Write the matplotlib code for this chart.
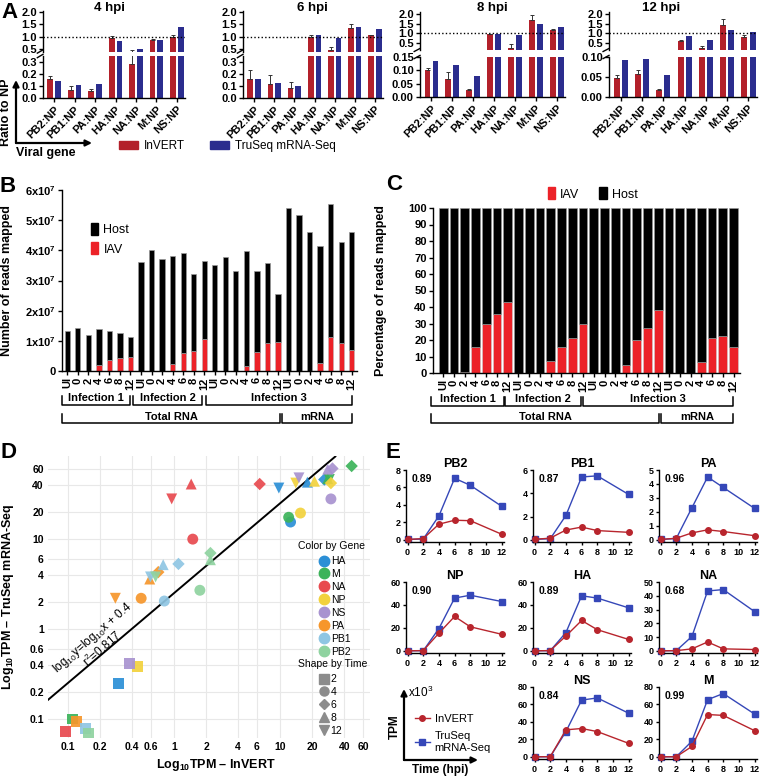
import matplotlib

matplotlib.use("Agg")
import matplotlib.pyplot as plt  # noqa: E402
import numpy as np  # noqa: E402
from matplotlib.lines import Line2D  # noqa: E402
from matplotlib.patches import FancyArrowPatch, Patch  # noqa: E402
from matplotlib.ticker import FormatStrFormatter  # noqa: E402

plt.rcParams["font.family"] = ["Liberation Sans", "DejaVu Sans"]
plt.rcParams["mathtext.fontset"] = "custom"
plt.rcParams["mathtext.rm"] = "Liberation Sans"
plt.rcParams["mathtext.bf"] = "Liberation Sans:bold"
plt.rcParams["mathtext.it"] = "Liberation Sans:italic"
plt.rcParams["axes.linewidth"] = 1.0
plt.rcParams["xtick.major.width"] = 1.0
plt.rcParams["ytick.major.width"] = 1.0

RED = "#b3202a"
NAVY = "#2b2d8e"
IAV_RED = "#ec2228"

# ---------------- A: ratio of each segment to NP
ratio_labels = ["PB2:NP", "PB1:NP", "PA:NP", "HA:NP", "NA:NP", "M:NP", "NS:NP"]
hpi_titles = ["4 hpi", "6 hpi", "8 hpi", "12 hpi"]
inv_4 = [0.16, 0.07, 0.06, 0.95, 0.28, 0.87, 1.00]
inv_4_err = [0.02, 0.03, 0.012, 0.07, 0.19, 0.03, 0.08]
tru_4 = [0.145, 0.11, 0.115, 0.82, 0.52, 0.86, 1.38]
inv_6 = [0.16, 0.12, 0.08, 1.00, 0.47, 1.35, 1.05]
inv_6_err = [0.07, 0.075, 0.05, 0.07, 0.10, 0.15, 0.03]
tru_6 = [0.16, 0.125, 0.10, 1.07, 0.93, 1.38, 1.33]
inv_8 = [0.10, 0.068, 0.025, 0.95, 0.25, 1.70, 1.20]
inv_8_err = [0.008, 0.025, 0.005, 0.04, 0.22, 0.25, 0.05]
tru_8 = [0.135, 0.12, 0.08, 0.98, 0.92, 1.47, 1.33]
inv_12 = [0.048, 0.057, 0.018, 0.58, 0.22, 1.42, 0.82]
inv_12_err = [0.008, 0.01, 0.002, 0.06, 0.15, 0.30, 0.12]
tru_12 = [0.093, 0.095, 0.054, 0.88, 0.65, 1.15, 1.08]

# ---------------- B / C: mapped reads per library
sample_labels = ["UI", "0", "2", "4", "6", "8", "12"] * 4
total_reads_1e7 = [1.33, 1.44, 1.19, 1.38, 1.31, 1.26, 1.13,
                   3.61, 4.01, 3.71, 3.81, 3.91, 3.22, 3.66,
                   3.52, 3.77, 3.33, 3.97, 3.31, 3.57, 2.55,
                   5.39, 5.17, 4.62, 4.14, 5.54, 4.29, 4.62]
iav_reads_1e7 = [0, 0, 0, 0.20, 0.36, 0.43, 0.47,
                 0, 0, 0, 0.24, 0.61, 0.66, 1.06,
                 0, 0, 0, 0.18, 0.63, 0.94, 0.95,
                 0, 0, 0, 0.25, 1.14, 0.94, 0.69]
iav_percent = [0, 0, 0.5, 16, 30, 36, 43,
               0, 0, 0, 7, 16, 21.5, 30,
               0, 0, 0, 5, 20, 27, 38,
               0, 0, 0, 6.5, 21, 22.5, 15.5]
b_tick_labels = ["0"] + [rf"{i}x10$^{{\mathbf{{7}}}}$" for i in range(1, 7)]

# ---------------- D: TPM (x10^3) InVERT vs TruSeq, times 2,4,6,8,12 hpi
genes = ["HA", "M", "NA", "NP", "NS", "PA", "PB1", "PB2"]
gene_colors = ["#2b8fd6", "#3cb35a", "#e84a4f", "#f2d23d",
               "#a893d0", "#f6962b", "#8fc6e3", "#8fd3a0"]
times = [2, 4, 6, 8, 12]
time_markers = ["s", "o", "D", "^", "v"]
d_inv_ha = [0.30, 12.5, 26, 18, 9.7]
d_tru_ha = [0.25, 15.5, 46, 43, 37]
d_inv_m = [0.11, 12, 47, 28, 29]
d_tru_m = [0.10, 17.5, 65, 47, 46]
d_inv_na = [0.095, 1.5, 6.4, 1.45, 0.95]
d_tru_na = [0.072, 10, 41, 41, 28]
d_inv_np = [0.45, 15.5, 30, 21, 14]
d_tru_np = [0.38, 19.5, 42, 44, 42]
d_inv_ns = [0.38, 30, 31, 28, 15]
d_tru_ns = [0.41, 28, 61, 60, 48]
d_inv_pa = [0.12, 0.49, 0.71, 0.59, 0.28]
d_tru_pa = [0.093, 2.2, 4.3, 3.6, 2.2]
d_inv_pb1 = [0.147, 0.81, 1.1, 0.79, 0.60]
d_tru_pb1 = [0.078, 2.05, 5.3, 5.2, 3.8]
d_inv_pb2 = [0.157, 1.75, 2.2, 2.2, 0.67]
d_tru_pb2 = [0.069, 2.7, 7.0, 5.9, 3.8]
d_invert = [d_inv_ha, d_inv_m, d_inv_na, d_inv_np, d_inv_ns, d_inv_pa, d_inv_pb1, d_inv_pb2]
d_truseq = [d_tru_ha, d_tru_m, d_tru_na, d_tru_np, d_tru_ns, d_tru_pa, d_tru_pb1, d_tru_pb2]
d_ticks = [0.1, 0.2, 0.4, 0.6, 1, 2, 4, 6, 10, 20, 40, 60]

# ---------------- E: TPM (x10^3) time course
e_time = [0, 2, 4, 6, 8, 12]
e_inv_pb2 = [0.05, 0.15, 1.8, 2.25, 2.2, 0.65]
e_tru_pb2 = [0.05, 0.1, 2.75, 7.05, 6.25, 3.85]
e_inv_pb1 = [0.05, 0.15, 0.85, 1.1, 0.8, 0.65]
e_tru_pb1 = [0.05, 0.1, 2.1, 5.4, 5.5, 3.9]
e_inv_pa = [0.03, 0.12, 0.5, 0.72, 0.6, 0.3]
e_tru_pa = [0.03, 0.1, 2.3, 4.5, 3.75, 2.25]
e_inv_np = [0.1, 0.3, 15.5, 30, 21, 14.5]
e_tru_np = [0.1, 0.2, 19.5, 46, 48.5, 43]
e_inv_ha = [0.1, 0.3, 13, 26.5, 18.5, 10]
e_tru_ha = [0.1, 0.2, 16, 48, 46, 37.5]
e_inv_na = [0.1, 0.2, 1.5, 6.5, 1.5, 1.0]
e_tru_na = [0.1, 0.2, 10.5, 43.5, 44.5, 28.5]
e_inv_ns = [0.1, 0.3, 31, 32.5, 29, 15.5]
e_tru_ns = [0.1, 0.2, 29, 65, 67.5, 50]
e_inv_m = [0.1, 0.2, 12, 48.5, 47.5, 30]
e_tru_m = [0.1, 0.2, 18, 65.5, 72.5, 49]
e_genes = ["PB2", "PB1", "PA", "NP", "HA", "NA", "NS", "M"]
e_corr = ["0.89", "0.87", "0.96", "0.90", "0.89", "0.68", "0.84", "0.99"]
e_ymax = [8, 6, 5, 60, 60, 50, 80, 80]
e_ystep = [2, 2, 1, 20, 20, 10, 20, 20]

W, H = 760, 777
fig = plt.figure(figsize=(W / 100, H / 100), dpi=100)


def box(left, top, right, bottom):
    return [left / W, 1 - bottom / H, (right - left) / W, (bottom - top) / H]


def fx(x):
    return x / W


def fy(y):
    return 1 - y / H


def bold_ticks(ax, size):
    for lab in ax.get_xticklabels() + ax.get_yticklabels():
        lab.set_fontweight("bold")
        lab.set_fontsize(size)


def panel_letter(x, y, s):
    fig.text(fx(x), fy(y), s, fontsize=16, fontweight="bold", ha="center", va="center")


def arrow(p0, p1):
    fig.add_artist(FancyArrowPatch((fx(p0[0]), fy(p0[1])), (fx(p1[0]), fy(p1[1])),
                                   transform=fig.transFigure, arrowstyle="-|>",
                                   mutation_scale=9, lw=1.6, color="k", shrinkA=0, shrinkB=0))


def bracket(x0, x1, y, text, size=8):
    fig.add_artist(Line2D([fx(x0), fx(x0), fx(x1), fx(x1)], [fy(y - 9), fy(y), fy(y), fy(y - 9)],
                          transform=fig.transFigure, color="k", lw=1.1))
    fig.text(fx((x0 + x1) / 2), fy(y - 1.5), text, fontsize=size, fontweight="bold",
             ha="center", va="bottom")


# ================= Panel A
a_cols = [(43, 185), (243, 383), (420, 565), (609, 757)]
a_title_x = [110, 312, 492, 661]
a_upper = [(10.8, 51.5, 0.4, 2.05), (10.8, 51.5, 0.4, 2.05), (12.1, 50, 0.14, 2.1), (12.1, 50, 0.14, 2.1)]
a_lower = [(56, 98, 0.35), (56, 98, 0.35), (57, 97, 0.15), (57, 97, 0.10)]
a_lower_ticks = [[0, 0.1, 0.2, 0.3], [0, 0.1, 0.2, 0.3], [0, 0.05, 0.10, 0.15], [0, 0.05, 0.10]]
a_fmt = ["%.1f", "%.1f", "%.2f", "%.2f"]
a_inv = [inv_4, inv_6, inv_8, inv_12]
a_err = [inv_4_err, inv_6_err, inv_8_err, inv_12_err]
a_tru = [tru_4, tru_6, tru_8, tru_12]

xa = np.arange(len(ratio_labels))
for i in range(4):
    l, r = a_cols[i]
    ut, ub, ylo, yhi = a_upper[i]
    lt, lb, ltop = a_lower[i]
    up = fig.add_axes(box(l, ut, r, ub))
    lo = fig.add_axes(box(l, lt, r, lb))
    for ax in (up, lo):
        ax.bar(xa - 0.19, a_inv[i], 0.28, color=RED,
               yerr=[np.zeros(7), a_err[i]],
               error_kw=dict(ecolor="#333333", elinewidth=0.7, capsize=1.6, capthick=0.7))
        ax.bar(xa + 0.19, a_tru[i], 0.28, color=NAVY)
        ax.set_xlim(-0.55, 6.4)
        ax.spines["top"].set_visible(False)
        ax.spines["right"].set_visible(False)
        ax.tick_params(length=3, pad=1.5)
    up.set_ylim(ylo, yhi)
    up.set_yticks([0.5, 1.0, 1.5, 2.0])
    up.yaxis.set_major_formatter(FormatStrFormatter("%.1f"))
    up.spines["bottom"].set_visible(False)
    up.set_xticks([])
    up.axhline(1.0, color="k", ls=(0, (1, 1.6)), lw=1.0)
    fig.text(fx(a_title_x[i]), fy(7.5), hpi_titles[i], fontsize=9.5, fontweight="bold",
             ha="center", va="center")
    lo.set_ylim(0, ltop)
    lo.set_yticks(a_lower_ticks[i])
    lo.yaxis.set_major_formatter(FormatStrFormatter(a_fmt[i]))
    lo.set_xticks(xa)
    lo.set_xticklabels(ratio_labels, rotation=45, ha="right", rotation_mode="anchor")
    bold_ticks(up, 8)
    bold_ticks(lo, 8)
    # axis break marks
    for ax, yy in ((up, 0), (lo, 1)):
        ax.plot([-0.04, 0.0], [yy - 0.04, yy + 0.04], transform=ax.transAxes,
                color="k", lw=1.0, clip_on=False)

fig.legend(handles=[Patch(color=RED), Patch(color=NAVY)], labels=["InVERT", "TruSeq mRNA-Seq"],
           ncol=2, loc="center left", bbox_to_anchor=(fx(108), fy(146)), frameon=False,
           fontsize=8.5, handlelength=1.6, handleheight=0.6, columnspacing=2.2, handletextpad=0.5)
arrow((16, 143), (16, 80))
arrow((16, 143), (92, 143))
fig.text(fx(6), fy(112), "Ratio to NP", rotation=90, fontsize=9, fontweight="bold",
         ha="center", va="center")
fig.text(fx(46), fy(153), "Viral gene", fontsize=9, fontweight="bold", ha="center", va="center")
panel_letter(9, 13, "A")

# ================= Panel B
xb = np.arange(len(sample_labels))
total = np.array(total_reads_1e7) * 1e7
iav = np.array(iav_reads_1e7) * 1e7
ax_b = fig.add_axes(box(62, 190, 357, 371))
ax_b.bar(xb, iav, 0.5, color=IAV_RED, edgecolor="#bbbbbb", lw=0.4)
ax_b.bar(xb, total - iav, 0.5, bottom=iav, color="k", edgecolor="#999999", lw=0.5)
ax_b.set_xlim(-0.5, 27.5)
ax_b.set_ylim(0, 6e7)
ax_b.set_yticks(np.arange(7) * 1e7)
ax_b.set_yticklabels(b_tick_labels)
ax_b.set_xticks(xb)
ax_b.set_xticklabels(sample_labels, rotation=90)
ax_b.spines["top"].set_visible(False)
ax_b.spines["right"].set_visible(False)
ax_b.tick_params(length=3, pad=1.5)
bold_ticks(ax_b, 8)
ax_b.set_ylabel("Number of reads mapped", fontsize=9, fontweight="bold")
ax_b.yaxis.set_label_coords(-0.165, 0.5)
ax_b.legend(handles=[Patch(color="k"), Patch(color=IAV_RED)], labels=["Host", "IAV"],
            loc="upper left", bbox_to_anchor=(0.06, 0.88), frameon=False, fontsize=9,
            handlelength=0.6, handleheight=1.1, handletextpad=0.4, labelspacing=0.5)
bracket(62, 130, 405, "Infection 1")
bracket(133, 202, 405, "Infection 2")
bracket(206, 352, 405, "Infection 3")
bracket(62, 280, 423, "Total RNA")
bracket(282, 352, 423, "mRNA")
panel_letter(8, 186, "B")

# ================= Panel C
pct = np.array(iav_percent)
ax_c = fig.add_axes(box(433, 208, 740, 373))
ax_c.bar(xb, pct, 0.82, color=IAV_RED, edgecolor="#cccccc", lw=0.4)
ax_c.bar(xb, 100 - pct, 0.82, bottom=pct, color="k", edgecolor="#999999", lw=0.4)
ax_c.set_xlim(-0.95, 27.6)
ax_c.set_ylim(0, 100)
ax_c.set_yticks(np.arange(0, 101, 10))
ax_c.set_xticks(xb)
ax_c.set_xticklabels(sample_labels, rotation=90)
ax_c.spines["top"].set_visible(False)
ax_c.spines["right"].set_visible(False)
ax_c.tick_params(length=3, pad=1.5)
bold_ticks(ax_c, 8)
ax_c.set_ylabel("Percentage of reads mapped", fontsize=9, fontweight="bold")
ax_c.yaxis.set_label_coords(-0.15, 0.5)
ax_c.legend(handles=[Patch(color=IAV_RED), Patch(color="k")], labels=["IAV", "Host"],
            ncol=2, loc="center", bbox_to_anchor=(0.52, 1.085), frameon=False, fontsize=9,
            handlelength=0.6, handleheight=1.1, handletextpad=0.4, columnspacing=1.6)
bracket(431, 504, 406, "Infection 1")
bracket(505, 581, 406, "Infection 2")
bracket(583, 733, 406, "Infection 3")
bracket(431, 659, 423, "Total RNA")
bracket(661, 733, 423, "mRNA")
panel_letter(394, 184, "C")

# ================= Panel D
ax_d = fig.add_axes(box(48, 456, 370, 738))
ax_d.set_xscale("log")
ax_d.set_yscale("log")
for g, col in enumerate(gene_colors):
    for t, mk in enumerate(time_markers):
        ax_d.scatter(d_invert[g][t], d_truseq[g][t], marker=mk, s=40 if mk == "D" else 62,
                     color=col, alpha=0.92, edgecolors="none", zorder=3)
xs = np.logspace(np.log10(0.065), np.log10(33), 50)
ax_d.plot(xs, 10 ** 0.4 * xs, color="k", lw=1.4, zorder=2)
ax_d.set_xlim(0.065, 70)
ax_d.set_ylim(0.0615, 84)
ax_d.set_xticks(d_ticks)
ax_d.set_xticklabels([f"{v:g}" for v in d_ticks])
ax_d.set_yticks(d_ticks)
ax_d.set_yticklabels([f"{v:g}" for v in d_ticks])
ax_d.minorticks_off()
ax_d.grid(True, color="#e8e8e8", lw=0.8)
ax_d.set_axisbelow(True)
for sp in ax_d.spines.values():
    sp.set_visible(False)
ax_d.tick_params(length=0, pad=3)
bold_ticks(ax_d, 7.5)
ax_d.set_xlabel(r"Log$_{\mathbf{10}}$TPM – InVERT", fontsize=9, fontweight="bold")
ax_d.xaxis.set_label_coords(0.52, -0.068)
ax_d.set_ylabel(r"Log$_{\mathbf{10}}$TPM – TruSeq mRNA-Seq", fontsize=9, fontweight="bold")
ax_d.yaxis.set_label_coords(-0.1, 0.5)
ax_d.text(0.17, 0.8, r"log$_{10}$y=log$_{10}$x + 0.4", rotation=41, fontsize=8.5,
          ha="center", va="center")
ax_d.text(0.21, 0.6, r"r$^2$=0.817", rotation=41, fontsize=8.5, ha="center", va="center")
gene_leg = ax_d.legend(
    handles=[Line2D([], [], marker="o", ls="", color=c, markersize=7.5) for c in gene_colors],
    labels=genes, loc="upper left", bbox_to_anchor=(fx(314), fy(551)),
    bbox_transform=fig.transFigure, frameon=False, fontsize=7.5, handlelength=1.0,
    handletextpad=0.1, labelspacing=0.28, borderpad=0)
ax_d.add_artist(gene_leg)
ax_d.legend(
    handles=[Line2D([], [], marker=m, ls="", color="#8c8c8c", markersize=5 if m == "D" else 6.5)
             for m in time_markers],
    labels=[str(t) for t in times], loc="upper left", bbox_to_anchor=(fx(314), fy(669)),
    bbox_transform=fig.transFigure, frameon=False, fontsize=7.5, handlelength=1.0,
    handletextpad=0.1, labelspacing=0.28, borderpad=0)
fig.text(fx(331), fy(546), "Color by Gene", fontsize=7.5, ha="center", va="center")
fig.text(fx(333), fy(664), "Shape by Time", fontsize=7.5, ha="center", va="center")
panel_letter(9, 452, "D")

# ================= Panel E
e_inv = [e_inv_pb2, e_inv_pb1, e_inv_pa, e_inv_np, e_inv_ha, e_inv_na, e_inv_ns, e_inv_m]
e_tru = [e_tru_pb2, e_tru_pb1, e_tru_pa, e_tru_np, e_tru_ha, e_tru_na, e_tru_ns, e_tru_m]
e_cols = [(406, 504), (533, 631), (659, 757)]
e_rows = [(470, 542), (582, 653), (687, 759)]
e_slots = [(0, 0), (0, 1), (0, 2), (1, 0), (1, 1), (1, 2), (2, 1), (2, 2)]
E_RED = "#b8252d"
E_BLUE = "#3547b8"
for k, gname in enumerate(e_genes):
    rr, cc = e_slots[k]
    l, r = e_cols[cc]
    t, b = e_rows[rr]
    ax = fig.add_axes(box(l, t, r, b))
    ax.plot(e_time, e_inv[k], color=E_RED, marker="o", markersize=4, lw=1.0, clip_on=False, zorder=3)
    ax.plot(e_time, e_tru[k], color=E_BLUE, marker="s", markersize=4, lw=1.0, clip_on=False, zorder=2)
    ax.set_xlim(-0.2, 12.3)
    ax.set_ylim(-0.03 * e_ymax[k], e_ymax[k])
    ax.set_xticks(range(0, 13, 2))
    ax.set_yticks(np.arange(0, e_ymax[k] + 0.1, e_ystep[k]))
    ax.spines["top"].set_visible(False)
    ax.spines["right"].set_visible(False)
    ax.tick_params(length=2.5, pad=1.5)
    bold_ticks(ax, 6.5)
    ax.set_title(gname, fontsize=9, fontweight="bold", pad=1)
    ax.text(0.06, 0.88, e_corr[k], transform=ax.transAxes, fontsize=7.5, fontweight="bold",
            ha="left", va="center")

arrow((404, 760), (404, 689))
arrow((404, 760), (478, 760))
fig.text(fx(408), fy(692), r"x10$^3$", fontsize=8.5, ha="left", va="center")
fig.text(fx(395), fy(727), "TPM", rotation=90, fontsize=8.5, fontweight="bold", ha="center", va="center")
fig.text(fx(440), fy(770), "Time (hpi)", fontsize=8.5, fontweight="bold", ha="center", va="center")
fig.legend(handles=[Line2D([], [], color=E_RED, marker="o", markersize=4, lw=1.0),
                    Line2D([], [], color=E_BLUE, marker="s", markersize=4, lw=1.0)],
           labels=["InVERT", "TruSeq\nmRNA-Seq"], loc="upper left",
           bbox_to_anchor=(fx(409), fy(708)), frameon=False, fontsize=8,
           handlelength=1.4, handletextpad=0.4, labelspacing=0.7, borderpad=0)
panel_letter(393, 452, "E")

fig.savefig("out.png", dpi=100)
